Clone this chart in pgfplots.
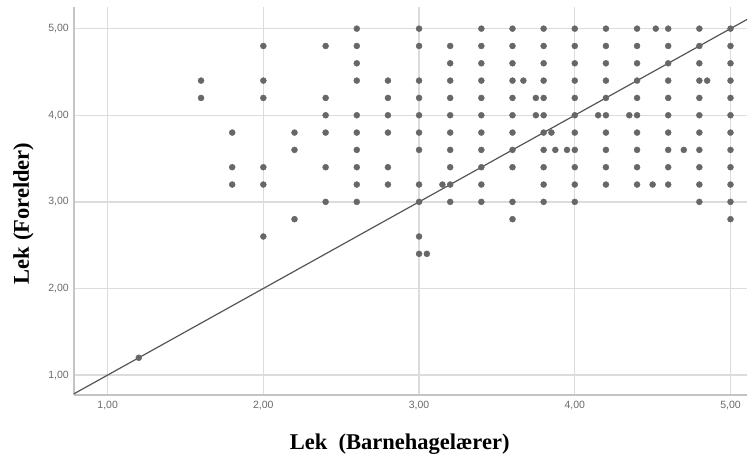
\documentclass[border=0pt]{standalone}
\usepackage{pgfplots}
\pgfplotsset{compat=1.18}
\usepackage{fontspec}
\setmainfont{Liberation Serif}
\newfontfamily\tickfont{Liberation Sans}
\definecolor{gridgray}{HTML}{DCDCDC}
\definecolor{axisgray}{HTML}{C4C4C4}
\definecolor{dotgray}{HTML}{676767}
\definecolor{linegray}{HTML}{555555}
\definecolor{tickgray}{HTML}{6A6A6A}
\begin{document}
\begin{tikzpicture}
\useasboundingbox (-74bp,-59bp) rectangle (674bp,395bp);
\begin{axis}[
  at={(0,0)}, anchor=south west,
  scale only axis,
  width=673bp, height=388bp,
  xmin=0.784, xmax=5.106,
  ymin=0.77, ymax=5.25,
  axis x line*=bottom, axis y line*=left,
  axis line style={draw=axisgray, line width=2bp, -},
  xtick={1,2,3,4,5}, ytick={1,2,3,4,5},
  xticklabels={{1,00},{2,00},{3,00},{4,00},{5,00}},
  yticklabels={{1,00},{2,00},{3,00},{4,00},{5,00}},
  major tick length=0pt,
  grid=major,
  major grid style={draw=gridgray, line width=1.3bp},
  tick label style={font=\tickfont\fontsize{10.5bp}{12bp}\selectfont, text=tickgray, inner sep=0pt},
  xticklabel style={anchor=center, yshift=-11bp},
  yticklabel style={anchor=east, xshift=-5bp},
  clip=false,
]
\addplot[linegray, line width=1.2bp, no marks] coordinates {(0.784,0.784) (5.106,5.106)};
\addplot[only marks, mark=*, mark size=3bp, mark options={solid, draw=dotgray, fill=dotgray, line width=0.4bp}] coordinates {
(1.2,1.2)
(1.6,4.4) (1.6,4.2)
(1.8,3.8) (1.8,3.4) (1.8,3.2)
(2.0,4.8) (2.0,4.4) (2.0,4.2) (2.0,3.4) (2.0,3.2) (2.0,2.6)
(2.2,3.8) (2.2,3.6) (2.2,2.8)
(2.4,4.8) (2.4,4.2) (2.4,4.0) (2.4,3.8) (2.4,3.4) (2.4,3.0)
(2.6,5.0) (2.6,4.8) (2.6,4.6) (2.6,4.4) (2.6,4.0) (2.6,3.8) (2.6,3.6) (2.6,3.4) (2.6,3.2) (2.6,3.0)
(2.8,4.4) (2.8,4.2) (2.8,4.0) (2.8,3.8) (2.8,3.4) (2.8,3.2)
(3.0,5.0) (3.0,4.8) (3.0,4.4) (3.0,4.2) (3.0,4.0) (3.0,3.8) (3.0,3.6) (3.0,3.2) (3.0,3.0) (3.0,2.6) (3.0,2.4)
(3.05,2.4)
(3.15,3.2)
(3.2,4.8) (3.2,4.6) (3.2,4.4) (3.2,4.2) (3.2,4.0) (3.2,3.8) (3.2,3.6) (3.2,3.4) (3.2,3.2) (3.2,3.0)
(3.4,5.0) (3.4,4.8) (3.4,4.6) (3.4,4.4) (3.4,4.2) (3.4,4.0) (3.4,3.8) (3.4,3.6) (3.4,3.4) (3.4,3.2) (3.4,3.0)
(3.6,5.0) (3.6,4.8) (3.6,4.6) (3.6,4.4) (3.6,4.2) (3.6,4.0) (3.6,3.8) (3.6,3.6) (3.6,3.4) (3.6,3.0) (3.6,2.8)
(3.67,4.4)
(3.75,4.2) (3.75,4.0)
(3.8,5.0) (3.8,4.8) (3.8,4.6) (3.8,4.4) (3.8,4.2) (3.8,4.0) (3.8,3.8) (3.8,3.6) (3.8,3.4) (3.8,3.2) (3.8,3.0)
(3.85,3.8)
(3.875,3.6)
(3.95,3.6)
(4.0,5.0) (4.0,4.8) (4.0,4.6) (4.0,4.4) (4.0,4.2) (4.0,4.0) (4.0,3.8) (4.0,3.6) (4.0,3.4) (4.0,3.2) (4.0,3.0)
(4.15,4.0)
(4.2,5.0) (4.2,4.8) (4.2,4.6) (4.2,4.4) (4.2,4.2) (4.2,4.0) (4.2,3.8) (4.2,3.6) (4.2,3.4) (4.2,3.2)
(4.35,4.0)
(4.4,5.0) (4.4,4.8) (4.4,4.6) (4.4,4.4) (4.4,4.2) (4.4,4.0) (4.4,3.8) (4.4,3.6) (4.4,3.4) (4.4,3.2)
(4.52,5.0) (4.5,3.2)
(4.6,5.0) (4.6,4.8) (4.6,4.6) (4.6,4.4) (4.6,4.2) (4.6,4.0) (4.6,3.8) (4.6,3.6) (4.6,3.4) (4.6,3.2)
(4.7,3.6)
(4.8,5.0) (4.8,4.8) (4.8,4.6) (4.8,4.4) (4.8,4.2) (4.8,4.0) (4.8,3.8) (4.8,3.6) (4.8,3.4) (4.8,3.2) (4.8,3.0)
(4.85,4.4)
(5.0,5.0) (5.0,4.8) (5.0,4.6) (5.0,4.4) (5.0,4.2) (5.0,4.0) (5.0,3.8) (5.0,3.6) (5.0,3.4) (5.0,3.2) (5.0,3.0) (5.0,2.8)
};
\node[anchor=base, font=\bfseries\fontsize{22.5bp}{26bp}\selectfont] at ([yshift=-54bp]axis description cs:0.484,0) {Lek\ \ (Barnehagelærer)};
\node[anchor=base, rotate=90, font=\bfseries\fontsize{22.5bp}{26bp}\selectfont] at ([xshift=-45bp]axis description cs:0,0.468) {Lek (Forelder)};
\end{axis}
\end{tikzpicture}
\end{document}
